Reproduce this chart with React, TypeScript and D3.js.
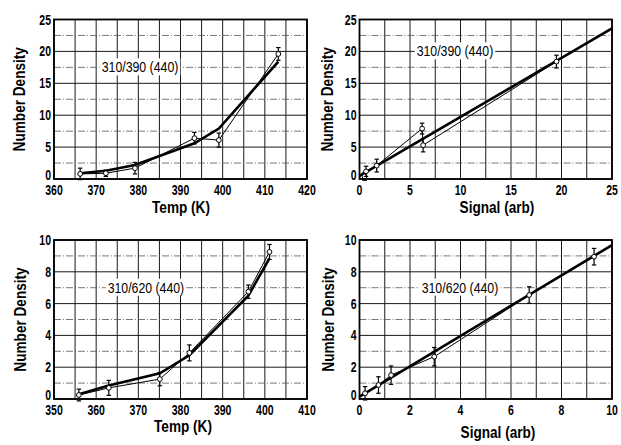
import React, { useEffect, useRef } from 'react';
import * as d3 from 'd3';

// 310/390 (440) vs temperature
const tempA = [366.2, 372.3, 379.2, 393.3, 399.1, 413.2];
const densA = [0.8, 0.9, 1.7, 6.4, 6.1, 19.6];
const errA = [0.9, 0.5, 0.9, 0.9, 1.1, 1.0];
const fitA = [0.9, 1.3, 2.2, 5.6, 7.9, 18.4];

// 310/390 (440) vs signal
const sigA = [0.5, 0.65, 1.7, 6.2, 6.3, 19.5];
const sigDensA = [0.4, 1.2, 2.1, 7.9, 5.3, 18.4];
const sigErrA = [0.6, 0.8, 1.0, 0.85, 1.05, 1.0];
const lineXA = [0, 25];
const lineYA = [0.5, 23.6];

// 310/620 (440) vs temperature
const tempB = [355.9, 363.0, 375.1, 382.1, 396.1, 401.1];
const densB = [0.25, 0.7, 1.25, 2.9, 6.75, 9.25];
const errB = [0.37, 0.47, 0.42, 0.5, 0.42, 0.47];
const fitB = [0.3, 0.85, 1.62, 2.75, 6.5, 8.85];

// 310/620 (440) vs signal
const sigB = [0.22, 0.75, 1.25, 2.96, 6.72, 9.29];
const sigDensB = [0.36, 0.88, 1.5, 2.66, 6.54, 8.95];
const sigErrB = [0.42, 0.52, 0.58, 0.58, 0.52, 0.52];
const lineXB = [0, 10];
const lineYB = [0.15, 9.68];

const FONT = "'Liberation Sans', Arial, sans-serif";

// squeeze text horizontally, the scan uses a condensed face
const condense = (sel: any, k = 0.8) => {
  sel.each(function (this: SVGTextElement) {
    const w = this.getComputedTextLength();
    d3.select(this).attr('textLength', w * k).attr('lengthAdjust', 'spacingAndGlyphs');
  });
};

type PanelProps = {
  box: [number, number, number, number]; // left, right, top, bottom
  xDomain: [number, number];
  yDomain: [number, number];
  xGrid: number;
  yGrid: number;
  xLabelStep: number;
  yLabelStep: number;
  xs: number[];
  ys: number[];
  errs: number[];
  fitX: number[];
  fitY: number[];
  label: string;
  labelAt: [number, number];
  xTitle: string;
  xTitlePos: [number, number];
  yTitleX: number;
};

const Panel = (p: PanelProps) => {
  const ref = useRef<SVGGElement>(null);

  useEffect(() => {
    const [left, right, top, bottom] = p.box;
    const g = d3.select(ref.current);
    const x = d3.scaleLinear().domain(p.xDomain).range([left, right]);
    const y = d3.scaleLinear().domain(p.yDomain).range([bottom, top]);

    const xLines = d3.range(p.xDomain[0], p.xDomain[1] + 1e-6, p.xGrid);
    const yLines = d3.range(p.yDomain[0], p.yDomain[1] + 1e-6, p.yGrid);

    // grid
    g.selectAll('.vx')
      .data(xLines)
      .enter()
      .append('line')
      .attr('x1', d => x(d))
      .attr('x2', d => x(d))
      .attr('y1', top)
      .attr('y2', bottom)
      .attr('stroke', '#1a1a1a')
      .attr('stroke-width', 1);

    g.selectAll('.hy')
      .data(yLines)
      .enter()
      .append('line')
      .attr('x1', left)
      .attr('x2', right)
      .attr('y1', d => y(d))
      .attr('y2', d => y(d))
      .attr('stroke', (d, i) => (i % 2 === 1 ? '#555' : '#1a1a1a'))
      .attr('stroke-width', (d, i) => (i % 2 === 1 ? 0.8 : 1))
      .attr('stroke-dasharray', (d, i) => (i % 2 === 1 ? '7,2,1,2' : null));

    // annotation
    const lab = g.append('text')
      .attr('x', x(p.labelAt[0]))
      .attr('y', y(p.labelAt[1]) + 5)
      .attr('text-anchor', 'middle')
      .attr('font-family', FONT)
      .attr('font-size', 15)
      .text(p.label);
    condense(lab, 0.82);
    const bb = (lab.node() as SVGTextElement).getBBox();
    g.insert('rect', 'text')
      .attr('x', bb.x - 2)
      .attr('y', bb.y)
      .attr('width', bb.width + 4)
      .attr('height', bb.height)
      .attr('fill', 'white');

    // fit line (thick)
    const pts = (a: number[], b: number[]) => a.map((v, i) => [v, b[i]] as [number, number]);
    const line = d3.line<[number, number]>().x(d => x(d[0])).y(d => y(d[1]));
    g.append('path')
      .attr('d', line(pts(p.fitX, p.fitY)))
      .attr('fill', 'none')
      .attr('stroke', 'black')
      .attr('stroke-width', 2.6);

    // data line (thin)
    g.append('path')
      .attr('d', line(pts(p.xs, p.ys)))
      .attr('fill', 'none')
      .attr('stroke', 'black')
      .attr('stroke-width', 1);

    // error bars
    const eb = g.selectAll('.eb')
      .data(p.xs.map((v, i) => ({ x: v, y: p.ys[i], e: p.errs[i] })))
      .enter()
      .append('g');
    eb.append('line')
      .attr('x1', d => x(d.x)).attr('x2', d => x(d.x))
      .attr('y1', d => y(d.y - d.e)).attr('y2', d => y(d.y + d.e))
      .attr('stroke', 'black').attr('stroke-width', 1.2);
    [-1, 1].forEach(s => {
      eb.append('line')
        .attr('x1', d => x(d.x) - 2.2).attr('x2', d => x(d.x) + 2.2)
        .attr('y1', d => y(d.y + s * d.e)).attr('y2', d => y(d.y + s * d.e))
        .attr('stroke', 'black').attr('stroke-width', 1.2);
    });
    eb.append('circle')
      .attr('cx', d => x(d.x))
      .attr('cy', d => y(d.y))
      .attr('r', 2.4)
      .attr('fill', 'white')
      .attr('stroke', 'black')
      .attr('stroke-width', 1);

    // frame
    g.append('rect')
      .attr('x', left).attr('y', top)
      .attr('width', right - left).attr('height', bottom - top)
      .attr('fill', 'none').attr('stroke', 'black').attr('stroke-width', 1.8);

    // tick labels
    const xTicks = d3.range(p.xDomain[0], p.xDomain[1] + 1e-6, p.xLabelStep);
    const yTicks = d3.range(p.yDomain[0], p.yDomain[1] + 1e-6, p.yLabelStep);
    const xt = g.selectAll('.xt')
      .data(xTicks)
      .enter()
      .append('text')
      .attr('x', d => x(d))
      .attr('y', bottom + 16)
      .attr('text-anchor', 'middle')
      .attr('font-family', FONT)
      .attr('font-weight', 'bold')
      .attr('font-size', 14)
      .text(d => d);
    condense(xt, 0.75);
    const yt = g.selectAll('.yt')
      .data(yTicks)
      .enter()
      .append('text')
      .attr('x', left - 3)
      .attr('y', d => y(d) + (d === 0 ? 1 : 5))
      .attr('text-anchor', 'end')
      .attr('font-family', FONT)
      .attr('font-weight', 'bold')
      .attr('font-size', 14)
      .text(d => d);
    condense(yt, 0.75);

    // axis titles
    const xTitle = g.append('text')
      .attr('x', p.xTitlePos[0])
      .attr('y', p.xTitlePos[1])
      .attr('text-anchor', 'middle')
      .attr('font-family', FONT)
      .attr('font-weight', 'bold')
      .attr('font-size', 17)
      .text(p.xTitle);
    condense(xTitle, 0.8);
    const yTitle = g.append('text')
      .attr('transform', `translate(${p.yTitleX},${(top + bottom) / 2}) rotate(-90)`)
      .attr('text-anchor', 'middle')
      .attr('font-family', FONT)
      .attr('font-weight', 'bold')
      .attr('font-size', 17)
      .text('Number Density');
    condense(yTitle, 0.8);

    return () => {
      d3.select(ref.current).selectAll('*').remove();
    };
  }, []);

  return <g ref={ref}></g>;
};

const App = () => {
  return (
    <svg width={621} height={445} style={{ position: 'absolute', left: 0, top: 0, background: 'white' }}>
      <Panel
        box={[54, 307, 19.5, 179]}
        xDomain={[360, 420]} yDomain={[0, 25]}
        xGrid={5} yGrid={2.5} xLabelStep={10} yLabelStep={5}
        xs={tempA} ys={densA} errs={errA} fitX={tempA} fitY={fitA}
        label="310/390 (440)" labelAt={[380.4, 17.5]}
        xTitle="Temp (K)" xTitlePos={[181, 213]} yTitleX={25}
      />
      <Panel
        box={[359.5, 612, 19.5, 179]}
        xDomain={[0, 25]} yDomain={[0, 25]}
        xGrid={2.5} yGrid={2.5} xLabelStep={5} yLabelStep={5}
        xs={sigA} ys={sigDensA} errs={sigErrA} fitX={lineXA} fitY={lineYA}
        label="310/390 (440)" labelAt={[9.45, 20]}
        xTitle="Signal (arb)" xTitlePos={[497, 213]} yTitleX={333}
      />
      <Panel
        box={[54, 307, 240, 399]}
        xDomain={[350, 410]} yDomain={[0, 10]}
        xGrid={5} yGrid={1} xLabelStep={10} yLabelStep={2}
        xs={tempB} ys={densB} errs={errB} fitX={tempB} fitY={fitB}
        label="310/620 (440)" labelAt={[371.8, 7]}
        xTitle="Temp (K)" xTitlePos={[183, 432]} yTitleX={26}
      />
      <Panel
        box={[359.5, 612, 240, 399]}
        xDomain={[0, 10]} yDomain={[0, 10]}
        xGrid={1} yGrid={1} xLabelStep={2} yLabelStep={2}
        xs={sigB} ys={sigDensB} errs={sigErrB} fitX={lineXB} fitY={lineYB}
        label="310/620 (440)" labelAt={[3.98, 7]}
        xTitle="Signal (arb)" xTitlePos={[498, 438]} yTitleX={334}
      />
    </svg>
  );
};

export default App;
